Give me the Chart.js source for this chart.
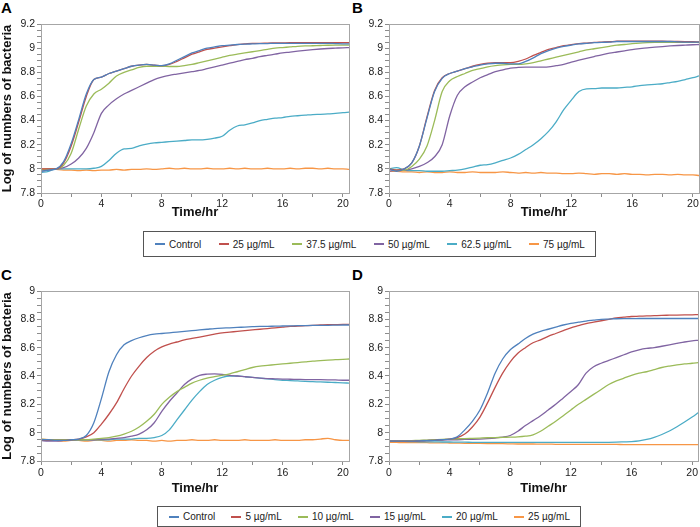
<!DOCTYPE html>
<html>
<head>
<meta charset="utf-8">
<script src="https://cdn.jsdelivr.net/npm/chart.js@4.4.1/dist/chart.umd.min.js"></script>
<style>
body { margin: 0; background: #fff; font-family: "Liberation Sans", Arial, sans-serif; }
#page { position: relative; width: 700px; height: 527px; overflow: hidden; }
.panel { position: absolute; }
.tag { position: absolute; font-weight: bold; font-size: 15px; line-height: 15px; color: #000; }
.legend { position: absolute; border: 1px solid #555; box-sizing: border-box; display: flex; align-items: center;
  justify-content: space-between; padding: 0 10px 0 11px; font-size: 10px; color: #222; }
.legend span { display: flex; align-items: center; white-space: nowrap; }
.legend i { display: inline-block; width: 10px; height: 2px; margin-right: 4px; }
</style>
</head>
<body>
<div id="page">
  <div class="tag" style="left:1px;top:0px">A</div>
  <div class="tag" style="left:352px;top:0px">B</div>
  <div class="tag" style="left:1px;top:267px">C</div>
  <div class="tag" style="left:352px;top:267px">D</div>
  <div class="panel" style="left:0px;top:10px;width:351px;height:210px"><canvas id="chartA"></canvas></div>
  <div class="panel" style="left:350px;top:10px;width:350px;height:210px"><canvas id="chartB"></canvas></div>
  <div class="panel" style="left:0px;top:277px;width:351px;height:219px"><canvas id="chartC"></canvas></div>
  <div class="panel" style="left:350px;top:277px;width:350px;height:219px"><canvas id="chartD"></canvas></div>
  <div class="legend" id="legendTop" style="left:143px;top:231px;width:453px;height:26px"></div>
  <div class="legend" id="legendBottom" style="left:157px;top:506px;width:424px;height:21px"></div>
</div>
<script>
// time points (hours)
const hours = [0, 0.5, 1, 1.5, 2, 2.5, 3, 3.5, 4, 4.5, 5, 5.5, 6, 6.5, 7, 7.5, 8, 8.5, 9, 9.5, 10,
  10.5, 11, 11.5, 12, 12.5, 13, 13.5, 14, 14.5, 15, 15.5, 16, 16.5, 17, 17.5, 18, 18.5, 19, 19.5, 20, 20.4];
// tick marks on the time axis (labels every 4 h)
const xTicks = [0, 2, 4, 6, 8, 10, 12, 14, 16, 18, 20];

const labelsTop = ["Control", "25 \u00b5g/mL", "37.5 \u00b5g/mL", "50 \u00b5g/mL", "62.5 \u00b5g/mL", "75 \u00b5g/mL"];
const labelsBottom = ["Control", "5 \u00b5g/mL", "10 \u00b5g/mL", "15 \u00b5g/mL", "20 \u00b5g/mL", "25 \u00b5g/mL"];
const colors = ["#4F81BD", "#C0504D", "#9BBB59", "#8064A2", "#4BACC6", "#F79646"];

// panel A
const aControl = [7.98, 7.99, 8.0, 8.06, 8.21, 8.41, 8.62, 8.74, 8.76, 8.79, 8.81, 8.83, 8.85, 8.86, 8.865, 8.86, 8.855, 8.87, 8.9, 8.93, 8.96,
  8.98, 9.0, 9.01, 9.02, 9.025, 9.03, 9.033, 9.035, 9.037, 9.038, 9.04, 9.04, 9.04, 9.04, 9.04, 9.04, 9.04, 9.04, 9.038, 9.036, 9.035];
const a25 = [8.0, 8.0, 8.0, 8.05, 8.19, 8.39, 8.6, 8.74, 8.76, 8.79, 8.81, 8.83, 8.85, 8.86, 8.865, 8.86, 8.855, 8.865, 8.89, 8.92, 8.95,
  8.97, 8.99, 9.0, 9.01, 9.02, 9.03, 9.035, 9.04, 9.04, 9.042, 9.043, 9.044, 9.045, 9.045, 9.045, 9.045, 9.045, 9.045, 9.045, 9.045, 9.045];
const a37 = [7.99, 8.0, 8.0, 8.03, 8.13, 8.33, 8.52, 8.62, 8.66, 8.71, 8.77, 8.8, 8.82, 8.84, 8.85, 8.85, 8.85, 8.848, 8.848, 8.855, 8.865,
  8.88, 8.895, 8.91, 8.925, 8.94, 8.95, 8.96, 8.97, 8.98, 8.99, 9.0, 9.005, 9.01, 9.015, 9.018, 9.02, 9.022, 9.024, 9.025, 9.025, 9.025];
const a50 = [7.98, 7.99, 8.0, 8.01, 8.04, 8.09, 8.17, 8.3, 8.46, 8.53, 8.58, 8.62, 8.65, 8.68, 8.71, 8.74, 8.76, 8.775, 8.785, 8.795, 8.805,
  8.815, 8.83, 8.845, 8.86, 8.875, 8.89, 8.905, 8.915, 8.93, 8.94, 8.95, 8.96, 8.967, 8.975, 8.982, 8.988, 8.993, 8.997, 9.0, 9.003, 9.005];
const a62 = [7.97, 7.98, 8.0, 8.0, 8.0, 8.0, 8.0, 8.005, 8.02, 8.07, 8.13, 8.165, 8.17, 8.19, 8.205, 8.215, 8.22, 8.225, 8.23, 8.235, 8.24,
  8.24, 8.245, 8.255, 8.27, 8.32, 8.355, 8.365, 8.38, 8.4, 8.41, 8.42, 8.425, 8.435, 8.44, 8.445, 8.45, 8.452, 8.455, 8.46, 8.465, 8.47];
const a75 = [8.0, 8.0, 7.995, 7.99, 7.99, 7.985, 7.99, 7.985, 7.99, 7.99, 7.995, 7.99, 7.995, 7.995, 8.0, 7.995, 8.0, 8.005, 8.0, 8.005, 8.0,
  8.0, 8.005, 8.0, 8.0, 8.005, 8.0, 8.005, 8.0, 8.0, 8.005, 8.0, 8.0, 8.005, 8.0, 8.005, 8.005, 8.0, 8.005, 8.0, 8.0, 7.995];

// panel B
const bControl = [8.0, 7.98, 8.0, 8.05, 8.19, 8.42, 8.64, 8.75, 8.79, 8.81, 8.83, 8.845, 8.86, 8.87, 8.875, 8.875, 8.87, 8.87, 8.89, 8.92, 8.955,
  8.98, 9.0, 9.015, 9.025, 9.035, 9.04, 9.045, 9.048, 9.05, 9.055, 9.055, 9.055, 9.055, 9.055, 9.055, 9.055, 9.055, 9.052, 9.05, 9.05, 9.05];
const b25 = [8.0, 7.99, 8.0, 8.05, 8.19, 8.43, 8.65, 8.755, 8.79, 8.81, 8.83, 8.85, 8.865, 8.875, 8.88, 8.88, 8.88, 8.89, 8.91, 8.94, 8.965,
  8.99, 9.005, 9.02, 9.03, 9.037, 9.042, 9.047, 9.05, 9.053, 9.057, 9.058, 9.058, 9.058, 9.058, 9.057, 9.057, 9.056, 9.055, 9.054, 9.053, 9.052];
const b37 = [8.0, 7.99, 7.99, 8.02, 8.08, 8.19, 8.4, 8.64, 8.73, 8.765, 8.79, 8.815, 8.83, 8.845, 8.855, 8.862, 8.865, 8.865, 8.87, 8.88, 8.895,
  8.91, 8.925, 8.94, 8.955, 8.97, 8.985, 8.995, 9.005, 9.015, 9.025, 9.03, 9.037, 9.042, 9.045, 9.047, 9.048, 9.048, 9.048, 9.048, 9.048, 9.048];
const b50 = [7.98, 7.99, 7.99, 8.0, 8.02, 8.05, 8.1, 8.2, 8.44, 8.61, 8.68, 8.72, 8.755, 8.78, 8.805, 8.82, 8.835, 8.84, 8.842, 8.842, 8.843,
  8.845, 8.855, 8.865, 8.885, 8.9, 8.915, 8.93, 8.945, 8.958, 8.968, 8.978, 8.988, 8.996, 9.003, 9.008, 9.013, 9.018, 9.022, 9.025, 9.028, 9.03];
const b62 = [8.0, 8.01, 7.99, 7.985, 7.985, 7.98, 7.98, 7.98, 7.985, 7.99, 8.0, 8.015, 8.03, 8.035, 8.05, 8.07, 8.09, 8.12, 8.16, 8.2, 8.25,
  8.31, 8.39, 8.49, 8.57, 8.64, 8.663, 8.665, 8.67, 8.67, 8.67, 8.675, 8.68, 8.69, 8.695, 8.7, 8.705, 8.715, 8.725, 8.74, 8.755, 8.77];
const b75 = [7.98, 7.98, 7.975, 7.975, 7.97, 7.975, 7.97, 7.97, 7.975, 7.97, 7.97, 7.975, 7.97, 7.97, 7.97, 7.975, 7.97, 7.965, 7.97, 7.965, 7.97,
  7.965, 7.965, 7.96, 7.96, 7.965, 7.96, 7.955, 7.96, 7.96, 7.955, 7.96, 7.955, 7.955, 7.95, 7.955, 7.955, 7.95, 7.955, 7.95, 7.95, 7.945];

// panel C
const cControl = [7.95, 7.95, 7.945, 7.945, 7.95, 7.955, 7.98, 8.07, 8.24, 8.43, 8.55, 8.62, 8.65, 8.67, 8.685, 8.695, 8.7, 8.705, 8.71, 8.715, 8.72,
  8.725, 8.73, 8.735, 8.738, 8.74, 8.743, 8.745, 8.748, 8.75, 8.75, 8.752, 8.753, 8.754, 8.755, 8.756, 8.757, 8.758, 8.758, 8.759, 8.76, 8.76];
const c5 = [7.95, 7.945, 7.945, 7.945, 7.95, 7.955, 7.97, 8.0, 8.06, 8.13, 8.21, 8.31, 8.4, 8.47, 8.53, 8.575, 8.605, 8.625, 8.64, 8.655, 8.665,
  8.675, 8.685, 8.695, 8.705, 8.71, 8.715, 8.72, 8.725, 8.73, 8.735, 8.74, 8.745, 8.75, 8.752, 8.755, 8.758, 8.76, 8.762, 8.763, 8.764, 8.765];
const c10 = [7.955, 7.95, 7.95, 7.95, 7.95, 7.95, 7.95, 7.955, 7.96, 7.965, 7.975, 7.99, 8.01, 8.04, 8.08, 8.13, 8.2, 8.25, 8.29, 8.32, 8.35,
  8.37, 8.385, 8.395, 8.405, 8.415, 8.43, 8.445, 8.46, 8.47, 8.475, 8.48, 8.485, 8.49, 8.495, 8.5, 8.505, 8.508, 8.512, 8.515, 8.518, 8.52];
const c15 = [7.945, 7.94, 7.94, 7.945, 7.95, 7.95, 7.95, 7.95, 7.955, 7.955, 7.96, 7.965, 7.975, 7.99, 8.02, 8.07, 8.15, 8.22, 8.28, 8.34, 8.38,
  8.405, 8.413, 8.415, 8.412, 8.405, 8.4, 8.395, 8.39, 8.385, 8.382, 8.38, 8.378, 8.377, 8.376, 8.375, 8.375, 8.374, 8.373, 8.372, 8.37, 8.37];
const c20 = [7.95, 7.95, 7.95, 7.95, 7.95, 7.95, 7.95, 7.95, 7.95, 7.95, 7.955, 7.955, 7.955, 7.96, 7.96, 7.965, 7.98, 8.02, 8.09, 8.16, 8.23,
  8.29, 8.34, 8.37, 8.39, 8.4, 8.4, 8.395, 8.39, 8.385, 8.38, 8.375, 8.37, 8.368, 8.365, 8.362, 8.36, 8.358, 8.356, 8.354, 8.352, 8.35];
const c25 = [7.955, 7.95, 7.945, 7.94, 7.945, 7.945, 7.94, 7.945, 7.945, 7.94, 7.945, 7.945, 7.95, 7.945, 7.945, 7.94, 7.945, 7.94, 7.945, 7.945, 7.95,
  7.945, 7.945, 7.95, 7.945, 7.945, 7.945, 7.95, 7.945, 7.945, 7.945, 7.95, 7.945, 7.945, 7.945, 7.95, 7.95, 7.955, 7.96, 7.95, 7.945, 7.945];

// panel D
const dControl = [7.94, 7.94, 7.94, 7.94, 7.942, 7.944, 7.946, 7.95, 7.955, 7.97, 8.02, 8.08, 8.16, 8.28, 8.42, 8.52, 8.585, 8.625, 8.665, 8.695, 8.715,
  8.73, 8.745, 8.76, 8.772, 8.78, 8.788, 8.794, 8.8, 8.802, 8.804, 8.805, 8.805, 8.806, 8.806, 8.806, 8.806, 8.806, 8.806, 8.806, 8.806, 8.806];
const d5 = [7.94, 7.94, 7.94, 7.94, 7.942, 7.944, 7.946, 7.95, 7.955, 7.965, 7.99, 8.04, 8.11, 8.21, 8.32, 8.42, 8.5, 8.56, 8.6, 8.635, 8.655,
  8.68, 8.7, 8.72, 8.74, 8.755, 8.77, 8.78, 8.79, 8.8, 8.81, 8.815, 8.82, 8.822, 8.824, 8.826, 8.828, 8.829, 8.83, 8.831, 8.832, 8.833];
const d10 = [7.94, 7.94, 7.942, 7.944, 7.946, 7.948, 7.95, 7.952, 7.955, 7.957, 7.958, 7.96, 7.962, 7.964, 7.965, 7.967, 7.968, 7.97, 7.975, 7.985, 8.01,
  8.045, 8.08, 8.12, 8.16, 8.2, 8.235, 8.27, 8.305, 8.34, 8.365, 8.385, 8.405, 8.42, 8.43, 8.445, 8.46, 8.47, 8.478, 8.485, 8.49, 8.495];
const d15 = [7.94, 7.94, 7.94, 7.942, 7.944, 7.945, 7.946, 7.948, 7.95, 7.95, 7.952, 7.953, 7.955, 7.958, 7.962, 7.968, 7.98, 8.01, 8.05, 8.085, 8.12,
  8.16, 8.2, 8.245, 8.29, 8.34, 8.42, 8.465, 8.49, 8.51, 8.53, 8.55, 8.57, 8.585, 8.595, 8.6, 8.61, 8.62, 8.63, 8.64, 8.648, 8.652];
const d20 = [7.94, 7.94, 7.938, 7.937, 7.936, 7.935, 7.935, 7.934, 7.934, 7.933, 7.933, 7.932, 7.932, 7.932, 7.932, 7.932, 7.932, 7.932, 7.932, 7.932, 7.932,
  7.932, 7.932, 7.932, 7.932, 7.932, 7.932, 7.932, 7.932, 7.932, 7.933, 7.935, 7.937, 7.942, 7.952, 7.967, 7.987, 8.012, 8.042, 8.075, 8.11, 8.14];
const d25 = [7.932, 7.931, 7.93, 7.93, 7.93, 7.929, 7.928, 7.928, 7.927, 7.926, 7.925, 7.925, 7.924, 7.923, 7.922, 7.922, 7.921, 7.92, 7.92, 7.92, 7.919,
  7.919, 7.918, 7.918, 7.918, 7.917, 7.917, 7.917, 7.917, 7.917, 7.917, 7.916, 7.916, 7.916, 7.916, 7.916, 7.916, 7.916, 7.916, 7.916, 7.916, 7.916];

// grey frame round the plot area
const framePlugin = {
    id: 'frame',
    afterDraw(chart) {
        const {ctx, chartArea: a} = chart;
        ctx.save();
        ctx.strokeStyle = '#a6a6a6';
        ctx.lineWidth = 1;
        ctx.strokeRect(Math.round(a.left) + 0.5, Math.round(a.top) + 0.5, Math.round(a.right - a.left), Math.round(a.bottom - a.top));
        ctx.restore();
    }
};

const tickFont = {family: '"Liberation Sans", Arial, sans-serif', size: 10.5};
const titleFont = {family: '"Liberation Sans", Arial, sans-serif', size: 13, weight: 'bold'};

const drawPanel = (id, seriesList, labels, yMin, yMax, opt) => {
    const ctx = document.getElementById(id).getContext('2d');
    return new Chart(ctx, {
        type: 'line',
        data: {
            datasets: seriesList.map((s, i) => ({
                label: labels[i],
                data: hours.map((h, j) => ({x: h, y: s[j]})),
                borderColor: colors[i],
                backgroundColor: colors[i],
                borderWidth: 1.3,
                pointRadius: 0,
                cubicInterpolationMode: 'monotone'
            }))
        },
        options: {
            responsive: true,
            maintainAspectRatio: false,
            animation: false,
            layout: {padding: {top: 14, right: opt.padRight, bottom: 0, left: 0}},
            plugins: {legend: {display: false}, tooltip: {enabled: false}},
            scales: {
                x: {
                    type: 'linear', min: 0, max: 20.4,
                    afterBuildTicks: (scale) => { scale.ticks = xTicks.map(v => ({value: v})); },
                    afterFit: (scale) => { scale.height = opt.xHeight; },
                    border: {color: '#8c8c8c'},
                    grid: {drawOnChartArea: false, tickLength: 4, tickColor: '#8c8c8c'},
                    ticks: {
                        autoSkip: false, maxRotation: 0, padding: opt.xPad,
                        color: '#222', font: tickFont,
                        callback: (v) => (v % 4 === 0 ? String(v) : '')
                    },
                    title: {display: true, text: 'Time/hr', color: '#111', font: titleFont, padding: 0}
                },
                y: {
                    min: yMin, max: yMax,
                    afterFit: (scale) => { scale.width = opt.yWidth; },
                    border: {color: '#8c8c8c'},
                    grid: {drawOnChartArea: false, tickLength: 4, tickColor: '#8c8c8c'},
                    ticks: {
                        stepSize: 0.05, autoSkip: false, maxTicksLimit: 100, padding: 2,
                        color: '#222', font: tickFont,
                        callback: (v) => (Math.abs(v / 0.2 - Math.round(v / 0.2)) < 1e-6 ? String(+v.toFixed(1)) : '')
                    },
                    title: {display: opt.yTitle, text: 'Log of numbers of bacteria', color: '#111', font: titleFont, padding: 0}
                }
            }
        },
        plugins: [framePlugin]
    });
};

drawPanel('chartA', [aControl, a25, a37, a50, a62, a75], labelsTop, 7.8, 9.2, {yTitle: true, yWidth: 41, xHeight: 27, xPad: 1, padRight: 2});
drawPanel('chartB', [bControl, b25, b37, b50, b62, b75], labelsTop, 7.8, 9.2, {yTitle: false, yWidth: 39, xHeight: 27, xPad: 1, padRight: 1});
drawPanel('chartC', [cControl, c5, c10, c15, c20, c25], labelsBottom, 7.8, 9.0, {yTitle: true, yWidth: 41, xHeight: 35, xPad: 2, padRight: 2});
drawPanel('chartD', [dControl, d5, d10, d15, d20, d25], labelsBottom, 7.8, 9.0, {yTitle: false, yWidth: 39, xHeight: 35, xPad: 2, padRight: 1});

// legends built from the same labels and colours
const fillLegend = (id, labels) => {
    const box = document.getElementById(id);
    labels.forEach((t, i) => {
        const item = document.createElement('span');
        const mark = document.createElement('i');
        mark.style.background = colors[i];
        item.appendChild(mark);
        item.appendChild(document.createTextNode(t));
        box.appendChild(item);
    });
};
fillLegend('legendTop', labelsTop);
fillLegend('legendBottom', labelsBottom);
</script>
</body>
</html>
